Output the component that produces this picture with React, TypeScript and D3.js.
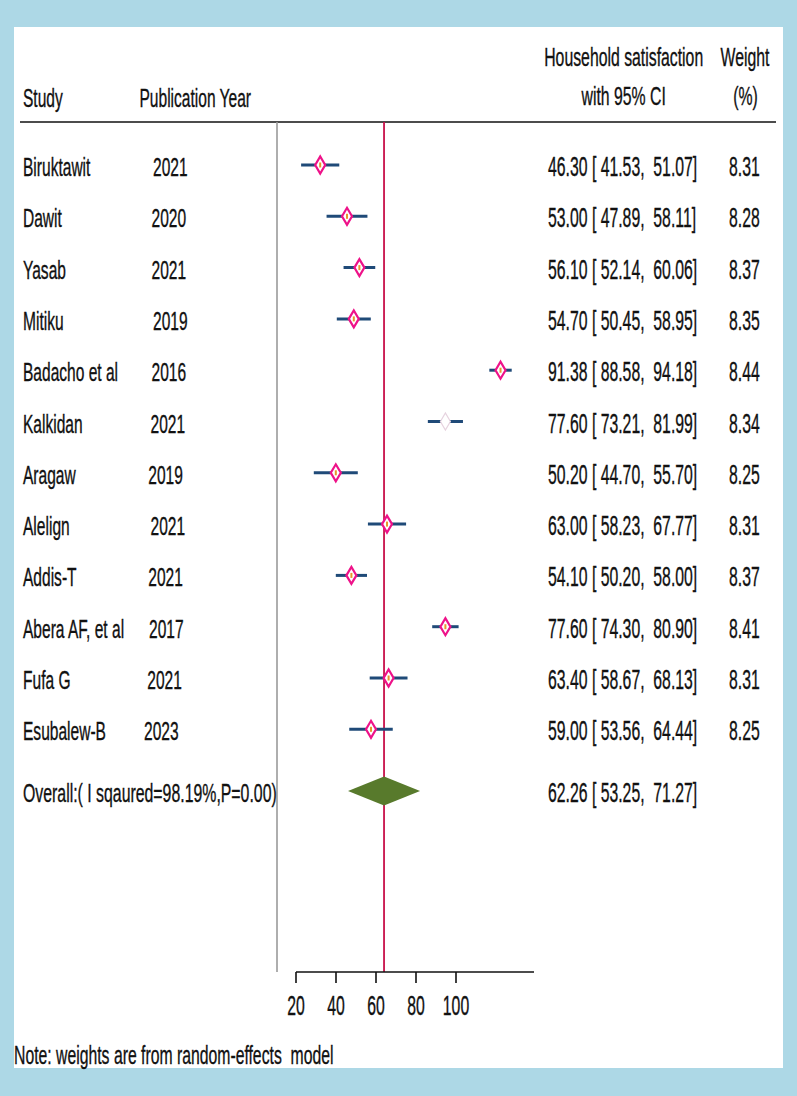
import React from "react";
import * as d3 from "d3";

// ---------- data ----------
const studies = ["Biruktawit", "Dawit", "Yasab", "Mitiku", "Badacho et al", "Kalkidan", "Aragaw", "Alelign", "Addis-T", "Abera AF, et al", "Fufa G", "Esubalew-B"];
const years = ["2021", "2020", "2021", "2019", "2016", "2021", "2019", "2021", "2021", "2017", "2021", "2023"];
const estimates = [46.30, 53.00, 56.10, 54.70, 91.38, 77.60, 50.20, 63.00, 54.10, 77.60, 63.40, 59.00];
const lowerCI = [41.53, 47.89, 52.14, 50.45, 88.58, 73.21, 44.70, 58.23, 50.20, 74.30, 58.67, 53.56];
const upperCI = [51.07, 58.11, 60.06, 58.95, 94.18, 81.99, 55.70, 67.77, 58.00, 80.90, 68.13, 64.44];
const weights = [8.31, 8.28, 8.37, 8.35, 8.44, 8.34, 8.25, 8.31, 8.37, 8.41, 8.31, 8.25];
const overallLabel = "Overall:( I sqaured=98.19%,P=0.00)";
const overallEstimate = [62.26];
const overallCI = [53.25, 71.27];
const axisTicks = [20, 40, 60, 80, 100];
const fadedStudy = "Kalkidan";

// ---------- layout ----------
const W = 797, H = 1096;
const FS = 25.5;
const SX = 0.61;
const yearX = [153, 151.5, 151.5, 153, 151.5, 150.5, 148.3, 150.5, 148.3, 149, 147.3, 144];
const FONT = "'Liberation Sans', Arial, Helvetica, sans-serif";

const fmt = d3.format(".2f");

function T({ x, y, children, anchor = "start", sx = SX, fs = FS }: any) {
  return (
    <text
      transform={`translate(${x},${y}) scale(${sx},1)`}
      textAnchor={anchor}
      fontFamily={FONT}
      fontSize={fs}
      fill="#111"
      stroke="#111"
      strokeWidth={0.35}
      style={{ whiteSpace: "pre" }}
      xmlSpace="preserve"
    >
      {children}
    </text>
  );
}

export default function App() {
  const x = d3.scaleLinear().domain([0, 100]).range([135, 535]);
  const xAxis = d3.scaleLinear().domain([20, 139]).range([296, 534]);
  const y = d3.scaleLinear().domain([0, 11]).range([165, 729.3]);
  const yOverall = 791;
  const top = 122, bottom = 972;
  const rows = d3.range(studies.length);

  const diamond = (cx: number, cy: number, hw: number, hh: number) => {
    const p = d3.path();
    p.moveTo(cx - hw, cy);
    p.lineTo(cx, cy - hh);
    p.lineTo(cx + hw, cy);
    p.lineTo(cx, cy + hh);
    p.closePath();
    return p.toString();
  };

  const ciText = (e: number, l: number, u: number) => `${fmt(e)} [ ${fmt(l)},  ${fmt(u)}]`;

  return (
    <svg width={W} height={H} style={{ position: "absolute", left: 0, top: 0 }}>
      <rect x={0} y={0} width={W} height={H} fill="#add8e6" />
      <rect x={14} y={27} width={769} height={1041} fill="#ffffff" />

      {/* headers */}
      <T x={23} y={107}>Study</T>
      <T x={139.5} y={107}>Publication Year</T>
      <T x={623.7} y={66} anchor="middle" sx={0.62}>Household satisfaction</T>
      <T x={623.7} y={105} anchor="middle" sx={0.62}>with 95% CI</T>
      <T x={745} y={66} anchor="middle" sx={0.62}>Weight</T>
      <T x={745.5} y={105} anchor="middle" sx={0.62}>(%)</T>
      <line x1={20} x2={776} y1={top} y2={top} stroke="#111" strokeWidth={1.6} />

      {/* vertical lines */}
      <line x1={277} x2={277} y1={top} y2={bottom} stroke="#9a9a9a" strokeWidth={1.6} />
      <line x1={x(overallEstimate[0])} x2={x(overallEstimate[0])} y1={top} y2={bottom} stroke="#c8104a" strokeWidth={1.8} />

      {/* rows */}
      {rows.map((i) => {
        const cy = y(i);
        const faded = studies[i] === fadedStudy;
        const cx = x(estimates[i]);
        return (
          <g key={i}>
            <T x={23} y={cy + 11}>{studies[i]}</T>
            <T x={yearX[i]} y={cy + 11}>{years[i]}</T>
            <line x1={x(lowerCI[i])} x2={x(upperCI[i])} y1={cy} y2={cy} stroke="#1f4a78" strokeWidth={3} />
            <path d={diamond(cx, cy, 5, 8.5)} fill="#ffffff" stroke={faded ? "#e6d3df" : "#ee1289"} strokeWidth={faded ? 1.2 : 2.2} />
            {!faded && <rect x={cx - 1} y={cy - 2.5} width={2} height={5} fill="#e8952a" />}
            <T x={548} y={cy + 11} fs={27} sx={0.585}>{ciText(estimates[i], lowerCI[i], upperCI[i])}</T>
            <T x={729} y={cy + 11} fs={27} sx={0.585}>{fmt(weights[i])}</T>
          </g>
        );
      })}

      {/* overall */}
      <T x={23} y={yOverall + 10.5} sx={0.622}>{overallLabel}</T>
      <path d={diamond(x(overallEstimate[0]), yOverall, (x(overallCI[1]) - x(overallCI[0])) / 2, 14.5)} fill="#587a2c" />
      <T x={548} y={yOverall + 10.5} fs={27} sx={0.585}>{ciText(overallEstimate[0], overallCI[0], overallCI[1])}</T>

      {/* axis */}
      <line x1={xAxis(20)} x2={xAxis(139)} y1={bottom} y2={bottom} stroke="#111" strokeWidth={1.6} />
      {axisTicks.map((t) => (
        <g key={t}>
          <line x1={xAxis(t)} x2={xAxis(t)} y1={bottom} y2={bottom + 11} stroke="#111" strokeWidth={1.6} />
          <T x={xAxis(t)} y={1015} anchor="middle" fs={27} sx={0.585}>{String(t)}</T>
        </g>
      ))}

      <T x={14} y={1064} fs={26.5} sx={0.595}>Note: weights are from random-effects  model</T>
    </svg>
  );
}
